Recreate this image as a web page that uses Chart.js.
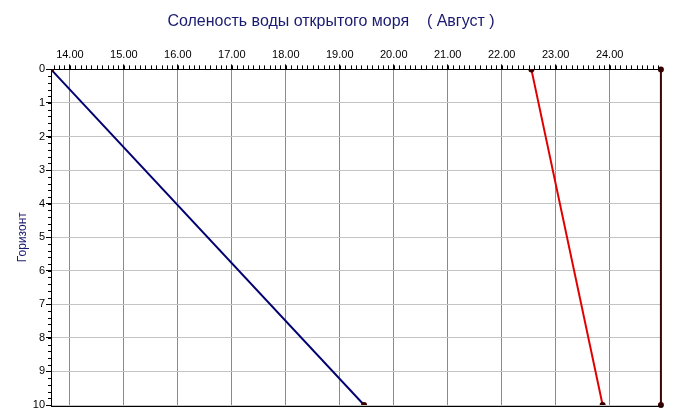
<!DOCTYPE html>
<html>
<head>
<meta charset="utf-8">
<script src="https://cdn.jsdelivr.net/npm/chart.js@4/dist/chart.umd.min.js"></script>
<style>
  html, body { margin: 0; padding: 0; background: #fff; }
  #wrap { width: 675px; height: 419px; }
</style>
</head>
<body>
<div id="wrap"><canvas id="chart"></canvas></div>
<script>
// данные (глубина / соленость)
const horizons = [0, 10];
const salinity1 = [13.65, 19.45];
const salinity2 = [22.55, 23.87];
const salinity3 = [24.95, 24.95];
const xTicks = [14, 15, 16, 17, 18, 19, 20, 21, 22, 23, 24];
const yTicks = [0, 1, 2, 3, 4, 5, 6, 7, 8, 9, 10];

const xMin = 13.65, xMax = 24.97;

function pts(xs) {
    return xs.map((x, i) => ({ x: x, y: horizons[i] }));
}

// мелкие засечки на осях + нижняя рамка
const minorTicks = {
    id: 'minorTicks',
    afterDraw(chart) {
        const ctx = chart.ctx;
        const a = chart.chartArea;
        const xs = chart.scales.x, ys = chart.scales.y;
        ctx.save();
        ctx.strokeStyle = '#000';
        ctx.lineWidth = 1;
        ctx.beginPath();
        for (let v = Math.ceil(xMin * 10); v <= Math.floor(xMax * 10); v++) {
            const px = Math.round(xs.getPixelForValue(v / 10)) + 0.5;
            ctx.moveTo(px, a.top - 4);
            ctx.lineTo(px, a.top);
        }
        for (let v = 0; v <= 50; v++) {
            const py = Math.round(ys.getPixelForValue(v / 5)) + 0.5;
            ctx.moveTo(a.left - 3, py);
            ctx.lineTo(a.left, py);
        }
        ctx.moveTo(a.left, Math.round(a.bottom) + 1.5);
        ctx.lineTo(a.right + 1, Math.round(a.bottom) + 1.5);
        ctx.stroke();
        ctx.restore();
    }
};

new Chart(document.getElementById('chart'), {
    type: 'scatter',
    data: {
        datasets: [
            {
                data: pts(salinity1),
                showLine: true,
                borderColor: '#000070',
                borderWidth: 2,
                pointRadius: 2,
                pointBackgroundColor: '#3a0000',
                pointBorderColor: '#3a0000'
            },
            {
                data: pts(salinity2),
                showLine: true,
                borderColor: '#e00000',
                borderWidth: 2,
                pointRadius: 2,
                pointBackgroundColor: '#3a0000',
                pointBorderColor: '#3a0000'
            },
            {
                data: pts(salinity3),
                showLine: true,
                clip: false,
                borderColor: '#3a0505',
                borderWidth: 2,
                pointRadius: 2,
                pointBackgroundColor: '#3a0000',
                pointBorderColor: '#3a0000'
            }
        ]
    },
    options: {
        responsive: true,
        maintainAspectRatio: false,
        animation: false,
        layout: { padding: { left: 0, right: 13, top: 0, bottom: 14 } },
        plugins: {
            legend: { display: false },
            tooltip: { enabled: false },
            title: {
                display: true,
                text: 'Соленость воды открытого моря    ( Август )',
                color: '#1a1a70',
                font: { family: 'Liberation Sans', size: 16, weight: 'normal' },
                padding: { top: 12, bottom: 14 }
            }
        },
        scales: {
            x: {
                type: 'linear',
                position: 'top',
                min: xMin,
                max: xMax,
                afterBuildTicks: s => { s.ticks = xTicks.map(v => ({ value: v })); },
                ticks: {
                    color: '#000',
                    font: { family: 'Liberation Sans', size: 11 },
                    padding: 3,
                    maxRotation: 0,
                    callback: v => v.toFixed(2)
                },
                grid: { color: '#8a8a8a', tickColor: '#000', tickLength: 5 },
                border: { color: '#000', width: 1 }
            },
            y: {
                type: 'linear',
                reverse: true,
                min: 0,
                max: 10,
                afterBuildTicks: s => { s.ticks = yTicks.map(v => ({ value: v })); },
                afterFit: s => { s.width = 51; },
                title: {
                    display: true,
                    text: 'Горизонт',
                    color: '#1a1a70',
                    font: { family: 'Liberation Sans', size: 12 },
                    padding: { top: 15, bottom: 0 }
                },
                ticks: {
                    color: '#000',
                    font: { family: 'Liberation Sans', size: 11 },
                    padding: 1
                },
                grid: { color: '#c4c4c4', tickColor: '#000', tickLength: 5 },
                border: { color: '#000', width: 1 }
            }
        }
    },
    plugins: [minorTicks]
});
</script>
</body>
</html>
